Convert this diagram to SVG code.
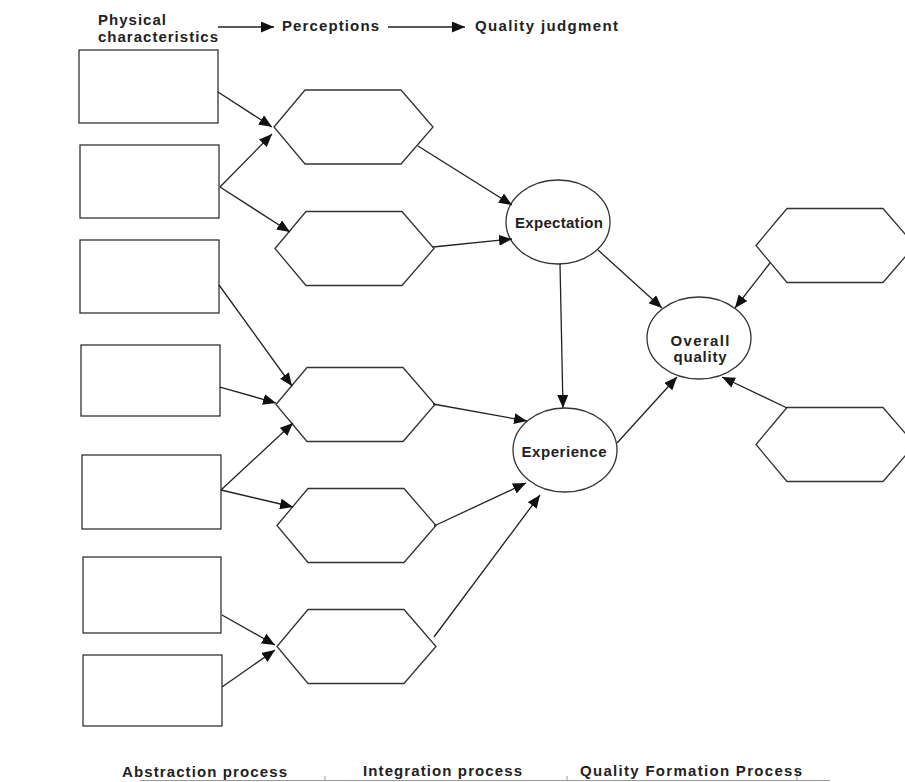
<svg xmlns="http://www.w3.org/2000/svg" width="905" height="782" viewBox="0 0 905 782">
  <style>
    .box { fill: #fff; stroke: #333; stroke-width: 1.3; }
    .hex { fill: #fff; stroke: #333; stroke-width: 1.3; }
    .ell { fill: #fff; stroke: #333; stroke-width: 1.3; }
    .edge { fill: none; stroke: #222; stroke-width: 1.3; marker-end: url(#head); }
    .lbl { font-family: "Liberation Sans", Arial, sans-serif; font-size: 15px; font-weight: bold; fill: #222; }
    .mid { text-anchor: middle; }
    .rule { stroke: #999; stroke-width: 1; fill: none; }
  </style>
  <defs>
    <marker id="head" markerUnits="userSpaceOnUse" markerWidth="14" markerHeight="11" refX="13" refY="5.5" orient="auto">
      <path d="M0,0 L13,5.5 L0,11 Z" fill="#111"/>
    </marker>
    <!-- hexagon outline, origin at its left corner -->
    <polygon id="hexShape" points="0,0 31,-37 127,-37 159,0 127,37 31,37"/>
  </defs>

  <rect width="905" height="782" fill="#fff"/>

  <!-- header legend -->
  <g id="legend">
    <text class="lbl" x="98" y="25" textLength="68" lengthAdjust="spacing">Physical</text>
    <text class="lbl" x="98" y="42" textLength="120" lengthAdjust="spacing">characteristics</text>
    <line class="edge" x1="218" y1="27" x2="274" y2="27"/>
    <text class="lbl" x="282" y="31" textLength="97" lengthAdjust="spacing">Perceptions</text>
    <line class="edge" x1="388" y1="27" x2="465" y2="27"/>
    <text class="lbl" x="475" y="31" textLength="143" lengthAdjust="spacing">Quality judgment</text>
  </g>

  <!-- physical characteristics -->
  <g id="char1"><rect class="box" x="79" y="50" width="139" height="73"/></g>
  <g id="char2"><rect class="box" x="80" y="145" width="139" height="73"/></g>
  <g id="char3"><rect class="box" x="80" y="240" width="139" height="73"/></g>
  <g id="char4"><rect class="box" x="81" y="345" width="139" height="71"/></g>
  <g id="char5"><rect class="box" x="82" y="455" width="139" height="74"/></g>
  <g id="char6"><rect class="box" x="83" y="557" width="138" height="76"/></g>
  <g id="char7"><rect class="box" x="83" y="655" width="139" height="71"/></g>

  <!-- perceptions -->
  <g id="perc1"><use href="#hexShape" class="hex" x="274" y="127"/></g>
  <g id="perc2"><use href="#hexShape" class="hex" x="275" y="248.5"/></g>
  <g id="perc3"><use href="#hexShape" class="hex" x="276" y="404.5"/></g>
  <g id="perc4"><use href="#hexShape" class="hex" x="277" y="525.5"/></g>
  <g id="perc5"><use href="#hexShape" class="hex" x="277" y="646.5"/></g>
  <g id="perc6"><use href="#hexShape" class="hex" x="756" y="245.5"/></g>
  <g id="perc7"><use href="#hexShape" class="hex" x="756" y="444.5"/></g>

  <!-- judgments -->
  <g id="expectation">
    <ellipse class="ell" cx="558" cy="222" rx="52" ry="42"/>
    <text class="lbl mid" x="559" y="228" textLength="88" lengthAdjust="spacing">Expectation</text>
  </g>
  <g id="experience">
    <ellipse class="ell" cx="565" cy="450" rx="52" ry="42"/>
    <text class="lbl mid" x="564" y="457" textLength="85" lengthAdjust="spacing">Experience</text>
  </g>
  <g id="overall">
    <ellipse class="ell" cx="699" cy="338" rx="52" ry="41"/>
    <text class="lbl mid" x="700" y="346" textLength="59" lengthAdjust="spacing">Overall</text>
    <text class="lbl mid" x="700" y="362" textLength="53" lengthAdjust="spacing">quality</text>
  </g>

  <!-- connectors -->
  <g id="connectors">
    <line class="edge" x1="218" y1="92" x2="272" y2="127"/>
    <line class="edge" x1="220" y1="187" x2="272" y2="134"/>
    <line class="edge" x1="220" y1="187" x2="290" y2="232"/>
    <line class="edge" x1="418" y1="146" x2="512" y2="205"/>
    <line class="edge" x1="433" y1="247" x2="512" y2="239"/>
    <line class="edge" x1="219" y1="285" x2="292" y2="386"/>
    <line class="edge" x1="220" y1="387" x2="276" y2="403"/>
    <line class="edge" x1="221" y1="490" x2="293" y2="423"/>
    <line class="edge" x1="221" y1="490" x2="293" y2="507"/>
    <line class="edge" x1="433" y1="404" x2="527" y2="421"/>
    <line class="edge" x1="434" y1="526" x2="526" y2="483"/>
    <line class="edge" x1="434" y1="637" x2="540" y2="495"/>
    <line class="edge" x1="222" y1="615" x2="275" y2="645"/>
    <line class="edge" x1="222" y1="687" x2="275" y2="650"/>
    <line class="edge" x1="560" y1="264" x2="563" y2="408"/>
    <line class="edge" x1="598" y1="250" x2="662" y2="308"/>
    <line class="edge" x1="770" y1="263" x2="735" y2="308"/>
    <line class="edge" x1="617" y1="443" x2="677" y2="377"/>
    <line class="edge" x1="787" y1="408" x2="722" y2="377"/>
  </g>

  <!-- process stages -->
  <g id="stages">
    <line class="rule" x1="140" y1="780.5" x2="830" y2="780.5"/>
    <line class="rule" x1="325" y1="776" x2="325" y2="781"/>
    <line class="rule" x1="567" y1="776" x2="567" y2="781"/>
    <line class="rule" x1="797" y1="772" x2="797" y2="781"/>
    <text class="lbl" x="122" y="777" textLength="165" lengthAdjust="spacing">Abstraction process</text>
    <text class="lbl" x="363" y="776" textLength="159" lengthAdjust="spacing">Integration process</text>
    <text class="lbl" x="580" y="776" textLength="222" lengthAdjust="spacing">Quality Formation Process</text>
  </g>
</svg>
